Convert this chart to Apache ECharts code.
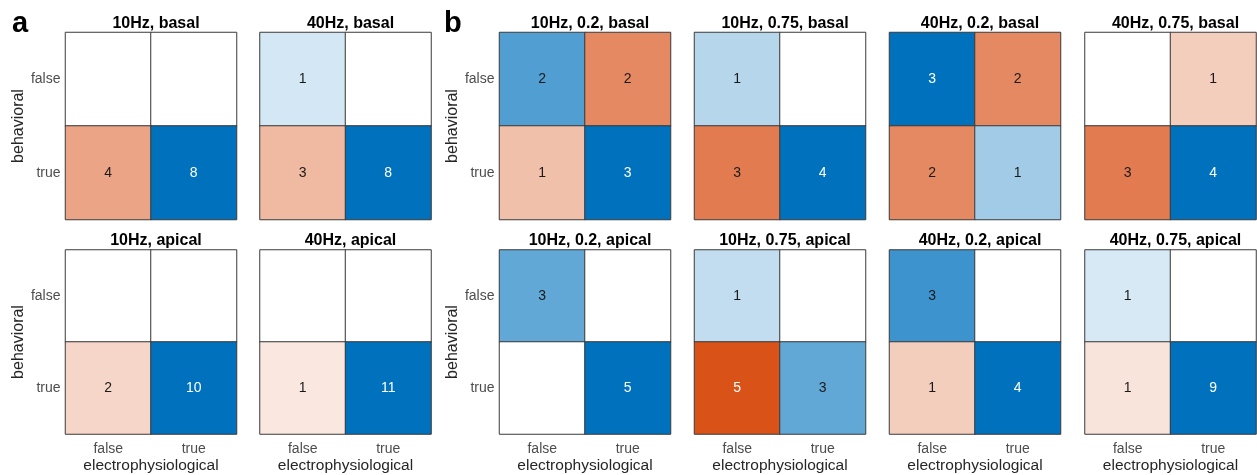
<!DOCTYPE html>
<html>
<head>
<meta charset="utf-8">
<script src="https://cdn.jsdelivr.net/npm/echarts@6/dist/echarts.min.js"></script>
<style>
  html, body { margin: 0; padding: 0; background: #fff; }
  #chart { width: 1257px; height: 475px; }
</style>
</head>
<body>
<div id="chart"></div>
<script>
// Axis categories (rows: behavioral outcome, columns: electrophysiological outcome)
const rowLabels = ['false', 'true'];
const colLabels = ['false', 'true'];

// Counts per condition, rows [false, true] x columns [false, true]
const a10Basal  = [[0, 0], [4, 8]];
const a40Basal  = [[1, 0], [3, 8]];
const a10Apical = [[0, 0], [2, 10]];
const a40Apical = [[0, 0], [1, 11]];

const b10Low_Basal   = [[2, 2], [1, 3]];
const b10High_Basal  = [[1, 0], [3, 4]];
const b40Low_Basal   = [[3, 2], [2, 1]];
const b40High_Basal  = [[0, 1], [3, 4]];
const b10Low_Apical  = [[3, 0], [0, 5]];
const b10High_Apical = [[1, 0], [5, 3]];
const b40Low_Apical  = [[3, 0], [1, 4]];
const b40High_Apical = [[1, 0], [1, 9]];

const titlesA = ['10Hz, basal', '40Hz, basal', '10Hz, apical', '40Hz, apical'];
const titlesB = ['10Hz, 0.2, basal', '10Hz, 0.75, basal', '40Hz, 0.2, basal', '40Hz, 0.75, basal',
                 '10Hz, 0.2, apical', '10Hz, 0.75, apical', '40Hz, 0.2, apical', '40Hz, 0.75, apical'];

const countsA = [a10Basal, a40Basal, a10Apical, a40Apical];
const countsB = [b10Low_Basal, b10High_Basal, b40Low_Basal, b40High_Basal,
                 b10Low_Apical, b10High_Apical, b40Low_Apical, b40High_Apical];

// Layout of the small matrices
const FONT = '"Liberation Sans", Arial, Helvetica, sans-serif';
const colLeftA = [65.5, 260];
const colLeftB = [499.5, 694.5, 889.5, 1085];
const cellW = 171;
const rowTop = [32.5, 250];
const cellH = 187;

const BLUE = [0, 114, 189];
const ORANGE = [217, 83, 25];

function shade(base, t) {
  const c = base.map(ch => Math.round(255 - (255 - ch) * t));
  return 'rgb(' + c.join(',') + ')';
}
function intensity(v, max) {
  if (v <= 0) return 0;
  return 0.05 + 0.95 * v / max;
}

const grids = [], xAxes = [], yAxes = [], series = [], titles = [];

function addMatrix(left, top, title, counts, showY, showX) {
  const idx = grids.length;
  grids.push({ left: left, top: top, width: cellW, height: cellH, containLabel: false });
  xAxes.push({
    type: 'category', gridIndex: idx, data: colLabels, position: 'bottom',
    axisLine: { show: false }, axisTick: { show: false }, splitLine: { show: false },
    axisLabel: { show: showX, color: '#4d4d4d', fontSize: 14, fontFamily: FONT, margin: 8 },
    name: showX ? 'electrophysiological' : '', nameLocation: 'middle', nameGap: 24,
    nameTextStyle: { color: '#262626', fontSize: 15.5, fontFamily: FONT }
  });
  yAxes.push({
    type: 'category', gridIndex: idx, data: rowLabels, inverse: true,
    axisLine: { show: false }, axisTick: { show: false }, splitLine: { show: false },
    axisLabel: { show: showY, color: '#4d4d4d', fontSize: 14, fontFamily: FONT, margin: 5 },
    name: showY ? 'behavioral' : '', nameLocation: 'middle', nameGap: 37, nameRotate: 90,
    nameTextStyle: { color: '#262626', fontSize: 16, fontFamily: FONT }
  });
  let max = 0;
  counts.forEach(r => r.forEach(v => { if (v > max) max = v; }));
  const data = [];
  counts.forEach((r, ri) => r.forEach((v, ci) => {
    const t = intensity(v, max);
    const base = ri === ci ? BLUE : ORANGE;
    data.push({
      value: [ci, ri, v],
      itemStyle: { color: v > 0 ? shade(base, t) : '#ffffff' },
      label: { color: t > 0.8 ? '#ffffff' : '#1a1a1a' }
    });
  }));
  series.push({
    type: 'heatmap', xAxisIndex: idx, yAxisIndex: idx, data: data,
    itemStyle: { borderColor: '#3a3a3a', borderWidth: 1 },
    label: {
      show: true, fontSize: 14, fontFamily: FONT,
      formatter: p => (p.value[2] > 0 ? String(p.value[2]) : '')
    },
    emphasis: { disabled: true }, animation: false
  });
  titles.push({
    text: title, left: left + cellW / 2, top: top - 22, textAlign: 'center',
    textStyle: { fontSize: 16, fontWeight: 'bold', color: '#000', fontFamily: FONT }
  });
}

countsA.forEach((c, i) => {
  const col = i % 2, row = Math.floor(i / 2);
  addMatrix(colLeftA[col], rowTop[row], titlesA[i], c, col === 0, row === 1);
});
countsB.forEach((c, i) => {
  const col = i % 4, row = Math.floor(i / 4);
  addMatrix(colLeftB[col], rowTop[row], titlesB[i], c, col === 0, row === 1);
});

const chart = echarts.init(document.getElementById('chart'), null, { renderer: 'canvas' });
chart.setOption({
  backgroundColor: '#ffffff',
  animation: false,
  title: titles,
  grid: grids,
  xAxis: xAxes,
  yAxis: yAxes,
  series: series,
  graphic: [
    { type: 'text', left: 12, top: 9, style: { text: 'a', font: 'bold 29px ' + FONT, fill: '#000' } },
    { type: 'text', left: 444, top: 9, style: { text: 'b', font: 'bold 29px ' + FONT, fill: '#000' } }
  ]
});
</script>
</body>
</html>
